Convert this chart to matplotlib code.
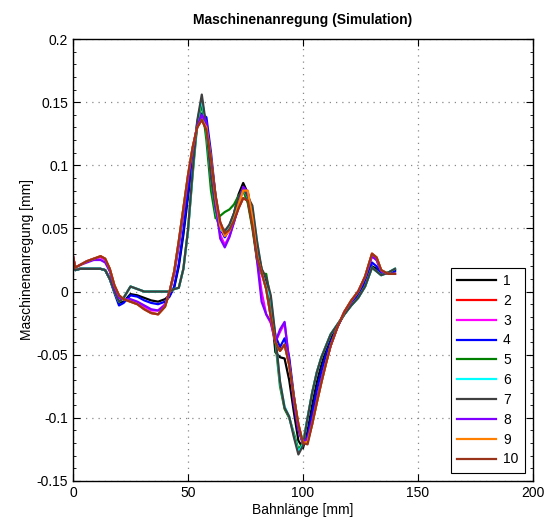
import matplotlib
matplotlib.use('Agg')
import matplotlib.pyplot as plt
from matplotlib.ticker import MultipleLocator

plt.rcParams['font.family'] = ['Liberation Sans', 'DejaVu Sans']

# Bahnlänge [mm]
x = [0, 1, 3, 6, 9, 12, 14, 16, 18, 20, 22, 25, 28, 31, 34, 37, 40, 42, 44, 46,
     48, 50, 52, 54, 56, 58, 60, 62, 64, 66, 68, 70, 72, 74, 76, 78, 80, 82, 84, 86,
     88, 90, 92, 94, 96, 98, 100, 102, 104, 106, 108, 110, 112, 115, 118, 121, 124, 127, 130, 132,
     134, 137, 140]

# Maschinenanregung [mm] je Simulation
s1 = [0.022, 0.017, 0.018, 0.018, 0.018, 0.018, 0.017, 0.010, 0.000, -0.009, -0.008, -0.002, -0.003, -0.005, -0.007, -0.008, -0.006, -0.003, 0.003, 0.020,
      0.045, 0.075, 0.105, 0.133, 0.152, 0.128, 0.090, 0.062, 0.048, 0.046, 0.052, 0.062, 0.077, 0.086, 0.078, 0.062, 0.035, 0.018, 0.006, -0.010,
      -0.048, -0.052, -0.053, -0.070, -0.095, -0.118, -0.124, -0.110, -0.090, -0.072, -0.058, -0.046, -0.037, -0.027, -0.018, -0.010, -0.003, 0.006, 0.020, 0.018,
      0.014, 0.015, 0.017]
s2 = [0.028, 0.019, 0.021, 0.024, 0.026, 0.028, 0.026, 0.018, 0.005, -0.003, -0.006, -0.008, -0.010, -0.014, -0.017, -0.018, -0.012, 0.000, 0.016, 0.040,
      0.066, 0.092, 0.114, 0.130, 0.136, 0.128, 0.105, 0.076, 0.055, 0.046, 0.049, 0.056, 0.066, 0.074, 0.072, 0.052, 0.027, 0.015, 0.002, -0.020,
      -0.040, -0.047, -0.042, -0.058, -0.083, -0.105, -0.120, -0.119, -0.105, -0.088, -0.072, -0.057, -0.043, -0.028, -0.016, -0.007, 0.000, 0.012, 0.030, 0.027,
      0.017, 0.014, 0.014]
s3 = [0.028, 0.019, 0.021, 0.024, 0.026, 0.027, 0.025, 0.017, 0.004, -0.004, -0.006, -0.007, -0.009, -0.012, -0.015, -0.015, -0.010, 0.000, 0.015, 0.038,
      0.064, 0.090, 0.113, 0.131, 0.139, 0.133, 0.105, 0.072, 0.045, 0.037, 0.044, 0.055, 0.068, 0.082, 0.078, 0.055, 0.026, 0.000, -0.018, -0.025,
      -0.040, -0.032, -0.025, -0.055, -0.085, -0.108, -0.120, -0.116, -0.102, -0.086, -0.070, -0.056, -0.043, -0.028, -0.016, -0.008, 0.000, 0.011, 0.028, 0.025,
      0.016, 0.014, 0.014]
s4 = [0.022, 0.017, 0.018, 0.018, 0.018, 0.018, 0.017, 0.010, -0.001, -0.011, -0.009, -0.003, -0.004, -0.007, -0.009, -0.010, -0.008, -0.004, 0.004, 0.022,
      0.048, 0.078, 0.106, 0.130, 0.141, 0.138, 0.110, 0.075, 0.050, 0.043, 0.049, 0.058, 0.071, 0.081, 0.078, 0.058, 0.030, 0.016, 0.004, -0.012,
      -0.035, -0.044, -0.037, -0.052, -0.082, -0.108, -0.121, -0.114, -0.096, -0.078, -0.063, -0.050, -0.040, -0.028, -0.017, -0.009, -0.002, 0.008, 0.023, 0.020,
      0.014, 0.014, 0.016]
s5 = [0.022, 0.017, 0.018, 0.018, 0.018, 0.018, 0.017, 0.010, 0.000, -0.008, -0.005, 0.004, 0.002, 0.000, 0.000, 0.000, 0.000, 0.000, 0.002, 0.003,
      0.018, 0.048, 0.092, 0.132, 0.149, 0.120, 0.080, 0.058, 0.060, 0.063, 0.065, 0.069, 0.076, 0.080, 0.070, 0.050, 0.025, 0.014, 0.014, -0.008,
      -0.040, -0.075, -0.093, -0.100, -0.112, -0.125, -0.120, -0.100, -0.080, -0.064, -0.052, -0.043, -0.034, -0.026, -0.018, -0.011, -0.005, 0.004, 0.019, 0.016,
      0.013, 0.015, 0.018]
s6 = [0.022, 0.017, 0.018, 0.018, 0.018, 0.018, 0.017, 0.010, 0.000, -0.008, -0.005, 0.004, 0.002, 0.000, 0.000, 0.000, 0.000, 0.000, 0.002, 0.003,
      0.018, 0.048, 0.094, 0.134, 0.153, 0.128, 0.090, 0.064, 0.049, 0.047, 0.052, 0.061, 0.074, 0.081, 0.075, 0.066, 0.040, 0.016, 0.003, -0.005,
      -0.036, -0.072, -0.091, -0.099, -0.114, -0.127, -0.121, -0.100, -0.080, -0.064, -0.052, -0.043, -0.034, -0.026, -0.018, -0.011, -0.005, 0.004, 0.019, 0.016,
      0.013, 0.015, 0.018]
s7 = [0.022, 0.017, 0.018, 0.018, 0.018, 0.018, 0.017, 0.010, 0.000, -0.008, -0.005, 0.004, 0.002, 0.000, 0.000, 0.000, 0.000, 0.000, 0.002, 0.003,
      0.018, 0.049, 0.095, 0.135, 0.156, 0.130, 0.090, 0.065, 0.051, 0.048, 0.053, 0.062, 0.075, 0.082, 0.075, 0.068, 0.040, 0.018, 0.011, -0.003,
      -0.035, -0.071, -0.092, -0.099, -0.115, -0.129, -0.122, -0.100, -0.080, -0.064, -0.052, -0.043, -0.034, -0.026, -0.018, -0.011, -0.005, 0.004, 0.019, 0.016,
      0.013, 0.015, 0.018]
s8 = [0.028, 0.019, 0.021, 0.023, 0.025, 0.025, 0.023, 0.016, 0.003, -0.005, -0.006, -0.006, -0.008, -0.011, -0.014, -0.015, -0.011, 0.000, 0.014, 0.036,
      0.062, 0.088, 0.112, 0.131, 0.140, 0.134, 0.105, 0.070, 0.042, 0.035, 0.043, 0.055, 0.068, 0.083, 0.079, 0.056, 0.025, -0.008, -0.018, -0.024,
      -0.040, -0.030, -0.024, -0.055, -0.088, -0.110, -0.120, -0.116, -0.102, -0.086, -0.070, -0.056, -0.043, -0.028, -0.016, -0.008, 0.000, 0.011, 0.028, 0.025,
      0.016, 0.014, 0.014]
s9 = [0.028, 0.019, 0.021, 0.024, 0.026, 0.028, 0.026, 0.018, 0.005, -0.003, -0.006, -0.008, -0.010, -0.014, -0.017, -0.018, -0.012, 0.000, 0.016, 0.040,
      0.066, 0.092, 0.114, 0.130, 0.136, 0.130, 0.106, 0.074, 0.052, 0.044, 0.048, 0.057, 0.069, 0.080, 0.080, 0.058, 0.028, 0.015, 0.002, -0.020,
      -0.040, -0.047, -0.042, -0.058, -0.083, -0.105, -0.120, -0.119, -0.105, -0.088, -0.072, -0.057, -0.043, -0.028, -0.016, -0.007, 0.000, 0.012, 0.030, 0.027,
      0.017, 0.014, 0.014]
s10 = [0.028, 0.019, 0.021, 0.024, 0.026, 0.028, 0.026, 0.018, 0.005, -0.003, -0.006, -0.008, -0.010, -0.014, -0.017, -0.018, -0.012, 0.000, 0.016, 0.040,
       0.066, 0.092, 0.114, 0.130, 0.136, 0.128, 0.105, 0.076, 0.055, 0.046, 0.049, 0.056, 0.066, 0.074, 0.072, 0.052, 0.027, 0.015, 0.002, -0.020,
       -0.040, -0.047, -0.042, -0.058, -0.083, -0.105, -0.120, -0.121, -0.105, -0.088, -0.072, -0.057, -0.043, -0.028, -0.016, -0.007, 0.000, 0.012, 0.030, 0.027,
       0.017, 0.014, 0.014]

series = [s1, s2, s3, s4, s5, s6, s7, s8, s9, s10]
labels = ['1', '2', '3', '4', '5', '6', '7', '8', '9', '10']
colors = ['black', 'red', 'magenta', 'blue', 'green', 'cyan', '#404040', '#8000ff', '#ff8000', '#993319']

y_ticks = [-0.15, -0.1, -0.05, 0, 0.05, 0.1, 0.15, 0.2]
y_ticklabels = ['-0.15', '-0.1', '-0.05', '0', '0.05', '0.1', '0.15', '0.2']
x_ticks = [0, 50, 100, 150, 200]

fig = plt.figure(figsize=(5.48, 5.2), dpi=100)
ax = fig.add_axes([0.1332, 0.075, 0.8394, 0.85])

for ys, c, lab in zip(series, colors, labels):
    ax.plot(x, ys, color=c, linewidth=1.6, label=lab)

ax.set_xlim(0, 200)
ax.set_ylim(-0.15, 0.2)
ax.set_xticks(x_ticks)
ax.set_xticklabels([str(t) for t in x_ticks])
ax.set_yticks(y_ticks)
ax.set_yticklabels(y_ticklabels)
ax.yaxis.set_minor_locator(MultipleLocator(0.01))
ax.tick_params(which='both', direction='in', top=True, right=True, labelsize=10)
ax.tick_params(which='major', length=5)
ax.tick_params(which='minor', length=2.5)
# MATLAB-artiges gepunktetes Gitter
ax.grid(True, which='major', linestyle=(0, (1, 4)), color='#888888', linewidth=0.9)
for sp in ax.spines.values():
    sp.set_linewidth(1.0)

ax.set_title('Maschinenanregung (Simulation)', fontsize=10, fontweight='bold', pad=11)
ax.set_xlabel('Bahnlänge [mm]', fontsize=10, labelpad=2)
ax.set_ylabel('Maschinenanregung [mm]', fontsize=10, labelpad=2)

leg = ax.legend(loc='lower right', fontsize=10, fancybox=False, framealpha=1,
                edgecolor='black', handlelength=2.8, labelspacing=0.42,
                borderaxespad=0.6, handletextpad=0.5, borderpad=0.45)
leg.get_frame().set_linewidth(0.8)

fig.savefig('out.png', dpi=100)
